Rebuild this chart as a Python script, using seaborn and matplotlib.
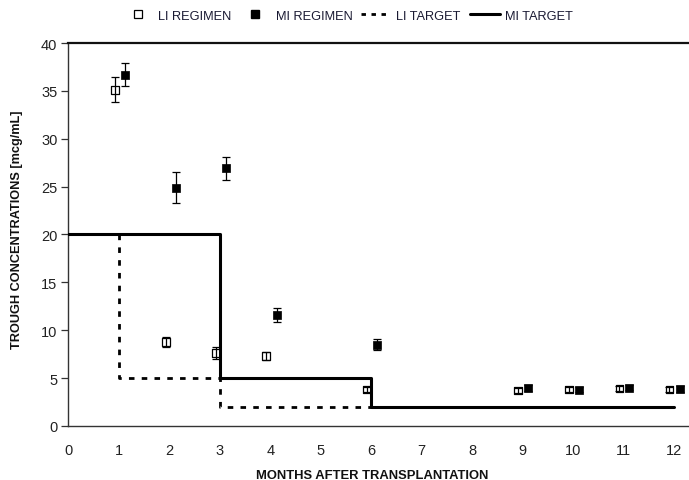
import numpy as np
import pandas as pd
import matplotlib
matplotlib.use("Agg")
import matplotlib.pyplot as plt
from matplotlib.lines import Line2D
import seaborn as sns

# ---- data ----
li_x = [0.92, 1.93, 2.92, 3.92, 5.92, 8.91, 9.92, 10.92, 11.91]
li_y = [35.1, 8.8, 7.6, 7.3, 3.8, 3.7, 3.8, 3.9, 3.8]
li_err = [1.3, 0.5, 0.6, 0.4, 0.25, 0.3, 0.25, 0.25, 0.3]

mi_x = [1.12, 2.13, 3.13, 4.13, 6.12, 9.11, 10.12, 11.12, 12.12]
mi_y = [36.7, 24.9, 26.9, 11.6, 8.5, 4.0, 3.8, 4.0, 3.9]
mi_err = [1.23, 1.64, 1.18, 0.75, 0.57, 0.3, 0.25, 0.25, 0.3]

li_target_x = [0, 1, 3, 6, 12]
li_target_y = [20, 5, 2, 2, 2]
mi_target_x = [0, 3, 6, 12]
mi_target_y = [20, 5, 2, 2]

x_ticks = list(range(0, 13))
y_ticks = list(range(0, 41, 5))

sns.set_theme(style="white")
plt.rcParams['font.family'] = ['Liberation Sans', 'DejaVu Sans']

fig = plt.figure(figsize=(6.89, 4.81), dpi=100)
ax = fig.add_axes([0.0994, 0.1123, 0.9006, 0.7962])

li_t = pd.DataFrame({"x": li_target_x, "y": li_target_y})
mi_t = pd.DataFrame({"x": mi_target_x, "y": mi_target_y})
sns.lineplot(data=li_t, x="x", y="y", ax=ax, color="black", lw=2.0,
             drawstyle="steps-post", dashes=False, linestyle=(0, (2.0, 2.6)),
             estimator=None, sort=False, zorder=2)
sns.lineplot(data=mi_t, x="x", y="y", ax=ax, color="black", lw=2.2,
             drawstyle="steps-post", estimator=None, sort=False, zorder=3)

ax.errorbar(li_x, li_y, yerr=li_err, fmt="none", ecolor="black",
            elinewidth=0.9, capsize=2.7, capthick=0.9, zorder=4)
ax.errorbar(mi_x, mi_y, yerr=mi_err, fmt="none", ecolor="black",
            elinewidth=0.9, capsize=2.7, capthick=0.9, zorder=4)

li_df = pd.DataFrame({"x": li_x, "y": li_y})
mi_df = pd.DataFrame({"x": mi_x, "y": mi_y})
sns.scatterplot(data=li_df, x="x", y="y", ax=ax, marker="s", s=30,
                facecolor="none", edgecolor="black", linewidth=0.9, zorder=5)
sns.scatterplot(data=mi_df, x="x", y="y", ax=ax, marker="s", s=34,
                color="black", edgecolor="black", linewidth=0.5, zorder=5)

ax.set_xlim(0, 12.3)
ax.set_ylim(0, 40)
ax.set_xticks(x_ticks)
ax.set_yticks(y_ticks)
ax.tick_params(axis="x", length=0, pad=12, labelsize=10.5, labelcolor="#222222")
ax.tick_params(axis="y", length=5, width=0.9, direction="out", left=True,
               pad=3, labelsize=10.5, labelcolor="#222222", color="#333333")

for side in ["left", "bottom"]:
    ax.spines[side].set_color("#333333")
    ax.spines[side].set_linewidth(1.0)
ax.spines["top"].set_color("#111111")
ax.spines["top"].set_linewidth(1.6)
ax.spines["right"].set_visible(False)

ax.set_xlabel("MONTHS AFTER TRANSPLANTATION", fontsize=9.4, fontweight="bold",
              color="#111111")
ax.set_ylabel("TROUGH CONCENTRATIONS [mcg/mL]", fontsize=9.2, fontweight="bold",
              color="#111111")
ax.xaxis.set_label_coords(0.49, -0.128)
ax.yaxis.set_label_coords(-0.083, 0.514)
ax.xaxis.label.set_va("center")
ax.yaxis.label.set_va("center")

handles = [
    Line2D([], [], marker="s", linestyle="none", markerfacecolor="none",
           markeredgecolor="black", markersize=5.5, markeredgewidth=0.9),
    Line2D([], [], marker="s", linestyle="none", color="black", markersize=5.5),
    Line2D([], [], color="black", lw=2.0, linestyle=(0, (1.6, 2.0))),
    Line2D([], [], color="black", lw=2.2),
]
labels = ["LI REGIMEN", "MI REGIMEN", "LI TARGET", "MI TARGET"]
leg = fig.legend(handles, labels, loc="center", bbox_to_anchor=(0.505, 0.965),
                 ncol=4, frameon=False, fontsize=9.2, handlelength=2.35,
                 handletextpad=0.4, columnspacing=0.7)
for t in leg.get_texts():
    t.set_color("#1a1a33")

fig.savefig("out.png", dpi=100)
